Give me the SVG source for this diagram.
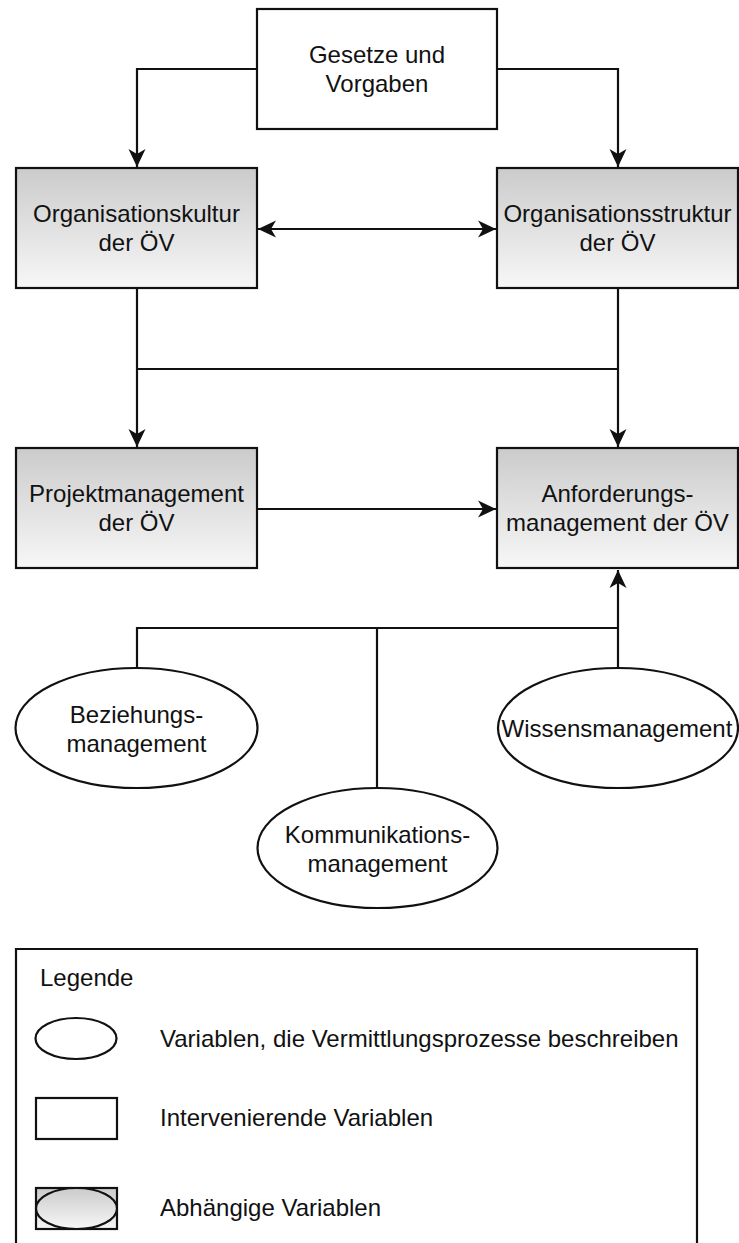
<svg xmlns="http://www.w3.org/2000/svg" width="739" height="1243" viewBox="0 0 739 1243">
  <style>
    .box { stroke: #111; stroke-width: 2.2; }
    .plain { fill: #fff; }
    .shaded { fill: url(#shade); }
    .lbl { font-family: "Liberation Sans", Arial, sans-serif; font-size: 24px; fill: #111; text-anchor: middle; }
    .leg { font-family: "Liberation Sans", Arial, sans-serif; font-size: 24px; fill: #111; }
    .wire { fill: none; stroke: #111; stroke-width: 2.2; }
  </style>
  <defs>
    <linearGradient id="shade" x1="0" y1="0" x2="0" y2="1">
      <stop offset="0" stop-color="#cbcbcb"/>
      <stop offset="1" stop-color="#f7f7f7"/>
    </linearGradient>
    <!-- notched arrowhead, tip sits on the line end -->
    <marker id="head" markerUnits="userSpaceOnUse" markerWidth="20" markerHeight="20" viewBox="0 0 20 20" refX="19" refY="10" orient="auto-start-reverse">
      <path d="M1,1.5 L19,10 L1,18.5 L6,10 Z" fill="#111"/>
    </marker>
  </defs>

  <!-- connectors -->
  <g id="connectors" class="wire">
    <polyline points="257,69 137,69 137,167" marker-end="url(#head)"/>
    <polyline points="497,69 618,69 618,167" marker-end="url(#head)"/>
    <line x1="258" y1="229" x2="496" y2="229" marker-start="url(#head)" marker-end="url(#head)"/>
    <line x1="137" y1="289" x2="137" y2="447" marker-end="url(#head)"/>
    <line x1="618" y1="289" x2="618" y2="447" marker-end="url(#head)"/>
    <line x1="137" y1="369" x2="618" y2="369"/>
    <line x1="257" y1="509" x2="496" y2="509" marker-end="url(#head)"/>
    <polyline points="137,668 137,628 618,628"/>
    <line x1="377" y1="628" x2="377" y2="788"/>
    <line x1="618" y1="668" x2="618" y2="570" marker-end="url(#head)"/>
  </g>

  <!-- nodes -->
  <g id="gesetze">
    <rect class="box plain" x="257" y="9" width="240" height="120"/>
    <text class="lbl" x="377" y="63">Gesetze und</text>
    <text class="lbl" x="377" y="92">Vorgaben</text>
  </g>
  <g id="organisationskultur">
    <rect class="box shaded" x="16" y="168" width="241" height="120"/>
    <text class="lbl" x="136.5" y="222">Organisationskultur</text>
    <text class="lbl" x="136.5" y="251">der ÖV</text>
  </g>
  <g id="organisationsstruktur">
    <rect class="box shaded" x="497" y="168" width="241" height="120"/>
    <text class="lbl" x="617.5" y="222">Organisationsstruktur</text>
    <text class="lbl" x="617.5" y="251">der ÖV</text>
  </g>
  <g id="projektmanagement">
    <rect class="box shaded" x="16" y="448" width="241" height="120"/>
    <text class="lbl" x="136.5" y="502">Projektmanagement</text>
    <text class="lbl" x="136.5" y="531">der ÖV</text>
  </g>
  <g id="anforderungsmanagement">
    <rect class="box shaded" x="497" y="448" width="241" height="120"/>
    <text class="lbl" x="617.5" y="502">Anforderungs-</text>
    <text class="lbl" x="617.5" y="531">management der ÖV</text>
  </g>
  <g id="beziehungsmanagement">
    <ellipse class="box plain" cx="136.5" cy="728" rx="121" ry="60"/>
    <text class="lbl" x="136.5" y="723">Beziehungs-</text>
    <text class="lbl" x="136.5" y="752">management</text>
  </g>
  <g id="kommunikationsmanagement">
    <ellipse class="box plain" cx="377.5" cy="848" rx="120" ry="60"/>
    <text class="lbl" x="377.5" y="843">Kommunikations-</text>
    <text class="lbl" x="377.5" y="872">management</text>
  </g>
  <g id="wissensmanagement">
    <ellipse class="box plain" cx="618" cy="728" rx="120" ry="60"/>
    <text class="lbl" x="617" y="737">Wissensmanagement</text>
  </g>

  <!-- legend -->
  <g id="legende">
    <path class="wire" d="M16,1250 L16,949 L697,949 L697,1250"/>
    <text class="leg" x="40" y="986">Legende</text>
    <ellipse class="box plain" cx="76" cy="1038.5" rx="40.5" ry="20.5"/>
    <text class="leg" x="160" y="1047">Variablen, die Vermittlungsprozesse beschreiben</text>
    <rect class="box plain" x="36" y="1098" width="81" height="41"/>
    <text class="leg" x="160" y="1126">Intervenierende Variablen</text>
    <rect class="box shaded" x="36" y="1188" width="81" height="41"/>
    <ellipse class="box shaded" cx="76.5" cy="1208.5" rx="40.5" ry="20.5"/>
    <text class="leg" x="160" y="1216">Abhängige Variablen</text>
  </g>
</svg>
